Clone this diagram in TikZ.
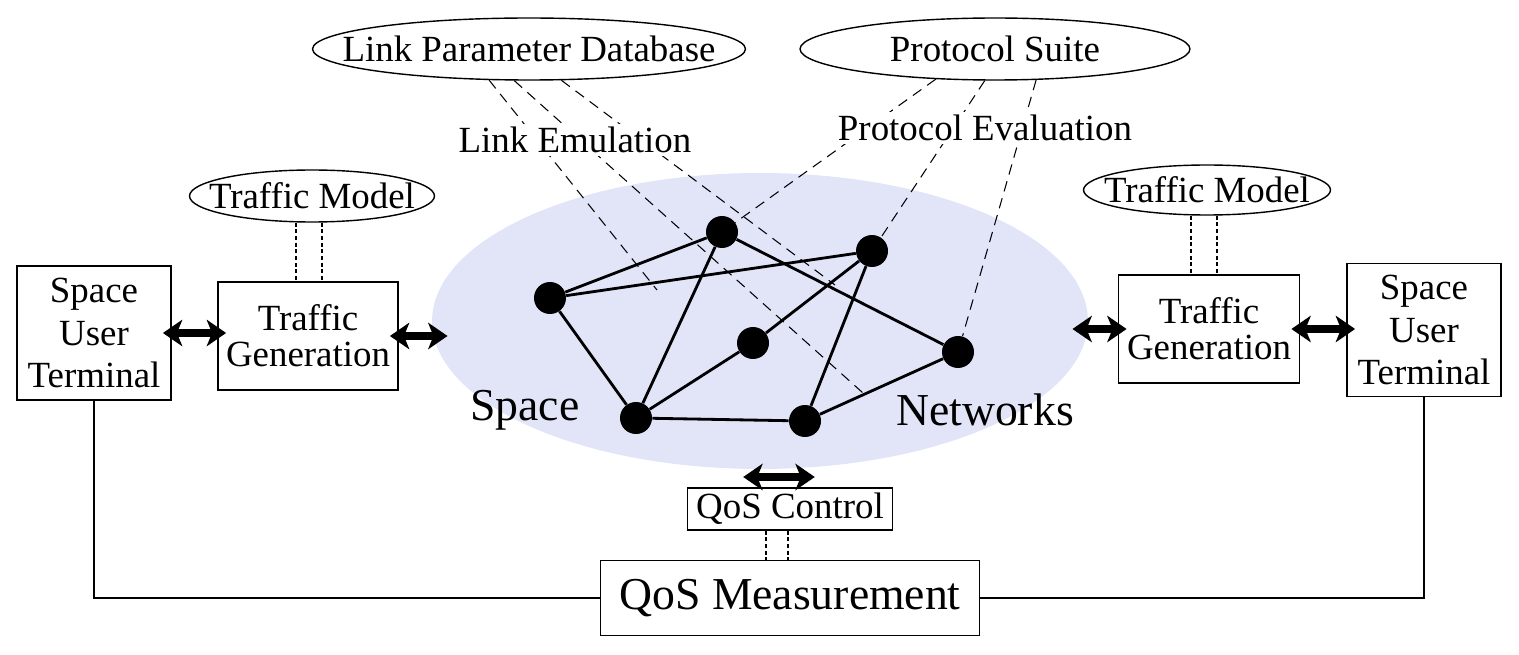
\documentclass[tikz,border=0pt]{standalone}
\usepackage{fontspec}
\setmainfont{Liberation Serif}
\usetikzlibrary{shapes.geometric,arrows.meta,positioning}
\definecolor{netblue}{RGB}{226,228,248}

\begin{document}
\begin{tikzpicture}[x=0.02cm,y=-0.02cm,
    font=\fontsize{21}{24}\selectfont,
    box/.style={draw,line width=0.8pt,align=center,inner sep=0},
    oval/.style={draw,ellipse,line width=0.8pt,inner sep=0},
    sat/.style={circle,fill=black,minimum size=0.64cm,inner sep=0},
    link/.style={line width=1.6pt},
    probe/.style={line width=0.6pt,dash pattern=on 6pt off 4pt},
    feed/.style={line width=1.6pt,dash pattern=on 2.2pt off 1.6pt},
    xchg/.style={line width=5pt,shorten <=-5pt,shorten >=-5pt,
      {Stealth[length=11pt,width=15pt,inset=3pt]}-{Stealth[length=11pt,width=15pt,inset=3pt]}},
    big/.style={font=\fontsize{26}{30}\selectfont}]
    \useasboundingbox (0,0) rectangle (1519,655);

    % the network
    \node[ellipse,fill=netblue,minimum width=13.12cm,minimum height=5.92cm] (net) at (760,321) {};
    \node[big] (sp)  at (525,410) {Space};
    \node[big] (nw)  at (985,410) {Networks};

    \node[sat] (s1) at (550,298) {};
    \node[sat] (s2) at (722,232) {};
    \node[sat] (s3) at (872,251) {};
    \node[sat] (s4) at (753,343) {};
    \node[sat] (s5) at (958,352) {};
    \node[sat] (s6) at (636,418) {};
    \node[sat] (s7) at (805,421) {};

    % databases on top
    \node[oval,minimum width=8.66cm,minimum height=1.24cm,label=center:{Link Parameter Database}] (lpd) at (529,49) {};
    \node[oval,minimum width=7.8cm,minimum height=1.24cm,label=center:{Protocol Suite}]  (ps)  at (995,49) {};

    \coordinate (e1) at (657,290);
    \coordinate (e2) at (863,393);
    \coordinate (e3) at (835,285);
    \draw[probe] (lpd.218) -- (e1);
    \draw[probe] (lpd.245) -- (e2);
    \draw[probe] (lpd.316) -- (e3);
    \draw[probe] (ps.207) -- (s2);
    \draw[probe] (ps.252) -- (s3);
    \draw[probe] (ps.323) -- (s5);

    \node[fill=white,inner sep=2pt] (le) at (575,140) {Link Emulation};
    \node[fill=white,inner sep=2pt] (pe) at (985,128) {Protocol Evaluation};

    \path[link] (s1) edge (s2) edge (s3) edge (s6)
                (s2) edge (s6) edge (s5)
                (s3) edge (s4) edge (s7)
                (s4) edge (s6)
                (s6) edge (s7)
                (s7) edge (s5);

    % terminals and traffic
    \node[box,minimum width=3.08cm,minimum height=2.68cm] (usr1) at (94,333) {Space\\User\\Terminal};
    \node[box,minimum width=3.6cm,minimum height=2.16cm,font=\fontsize{21}{20.5}\selectfont] (tg1) at (308,336) {Traffic\\Generation};
    \node[oval,minimum width=4.9cm,minimum height=1.04cm,label=center:{Traffic Model}] (tm1) at (312,196) {};

    \node[box,minimum width=3.62cm,minimum height=2.16cm,font=\fontsize{21}{20.5}\selectfont] (tg2) at (1209,329) {Traffic\\Generation};
    \node[box,minimum width=3.08cm,minimum height=2.66cm] (usr2) at (1424,330) {Space\\User\\Terminal};
    \node[oval,minimum width=4.94cm,minimum height=1.0cm,label=center:{Traffic Model}] (tm2) at (1207,190) {};

    \foreach \dx in {-0.32cm,0.2cm} {
      \draw[feed] ([xshift=\dx]tm1.south) -- ([xshift=\dx]tm1.south |- tg1.north);
      \draw[feed] ([xshift=\dx]tm2.south) -- ([xshift=\dx]tm2.south |- tg2.north);
    }

    \draw[xchg] (usr1.east) -- (usr1.east -| tg1.west);
    \draw[xchg,shorten >=-9pt] (tg1.east) -- (tg1.east -| net.west);
    \draw[xchg,shorten <=-9pt] (tg2.west -| net.east) -- (tg2.west);
    \draw[xchg] (tg2.east) -- (tg2.east -| usr2.west);

    % QoS
    \node[box,minimum width=4.1cm,minimum height=0.84cm] (qc) at (790,509) {QoS Control};
    \node[box,big,minimum width=7.58cm,minimum height=1.5cm] (qm) at (790,598) {QoS Measurement};

    \coordinate (q1) at (752,477);
    \coordinate (q2) at (806,477);
    \draw[xchg] (q1) -- (q2);

    \foreach \dx in {-0.48cm,-0.04cm}
      \draw[feed] ([xshift=\dx]qc.south) -- ([xshift=\dx]qc.south |- qm.north);

    \draw[line width=1.2pt] (usr1.south) |- (qm.west);
    \draw[line width=1.2pt] (qm.east) -| (usr2.south);
\end{tikzpicture}
\end{document}
